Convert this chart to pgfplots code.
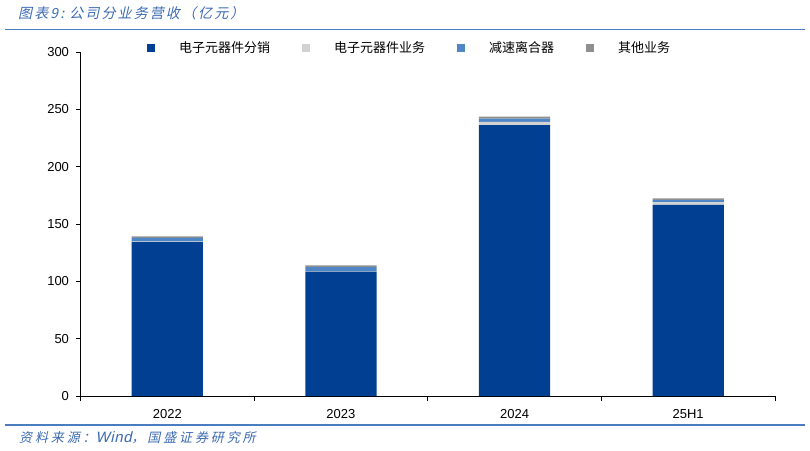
\documentclass[border=0pt]{standalone}
\usepackage{pgfplots}
\pgfplotsset{compat=1.18}
\usepackage{fontspec}
\setmainfont{Liberation Sans}
\newfontfamily\cjk{Noto Sans CJK SC}
\newfontfamily\cjktitle{Noto Sans CJK SC}[FakeSlant=0.22,LetterSpace=15]
\newfontfamily\cjksrc{Noto Sans CJK SC}[FakeSlant=0.22,LetterSpace=22]
\newfontfamily\latit{Liberation Sans}[FakeSlant=0.22,LetterSpace=4]
\definecolor{cDark}{HTML}{003F91}
\definecolor{cLight}{HTML}{D2D2D2}
\definecolor{cMid}{HTML}{4F86C6}
\definecolor{cGray}{HTML}{8F8F8F}
\definecolor{cTitle}{HTML}{3B6AB3}
\definecolor{cLine}{HTML}{4A7CC0}
\begin{document}
\begin{tikzpicture}[x=1pt,y=1pt]
\path[use as bounding box] (0,0) rectangle (810,450);
\node[anchor=west,inner sep=0pt,text=cTitle,font=\cjktitle\fontsize{14}{14}\selectfont] at (18,437) {图表9:\ 公司分业务营收（亿元）};
\draw[cLine,line width=1.2pt] (5,420.5) -- (805,420.5);
\draw[cLine,line width=1.2pt] (5,25) -- (805,25);
\node[anchor=west,inner sep=0pt,text=cTitle,font=\cjksrc\fontsize{13}{13}\selectfont] at (19,12) {资料来源：{\latit\fontsize{15}{15}\selectfont Wind}，国盛证券研究所};
\begin{axis}[
  at={(80.5pt,54pt)}, anchor=south west,
  scale only axis, width=694.5pt, height=344pt,
  ymin=0, ymax=300, ytick={0,50,...,300},
  xmin=-0.5, xmax=3.5,
  xtick={-0.5,0.5,1.5,2.5,3.5},
  x tick label as interval,
  xticklabels={2022,2023,2024,25H1},
  axis x line*=bottom, axis y line*=left,
  axis line style={black, line width=0.7pt},
  tick style={black, line width=0.7pt},
  tick align=outside, major tick length=5pt,
  /pgf/number format/assume math mode=true,
  tick label style={font=\fontsize{13}{13}\selectfont},
  yticklabel style={xshift=-3pt},
  xticklabel style={yshift=-5pt},
  ybar stacked, bar width=0.41,
  legend columns=4,
  legend style={at={(0.474,1.012)}, anchor=center, draw=none, fill=none,
    font=\cjk\fontsize{13}{13}\selectfont,
    /tikz/every odd column/.append style={column sep=22pt},
    /tikz/every even column/.append style={column sep=30pt}},
  legend image code/.code={\fill[#1,draw=none] (0pt,-4pt) rectangle (8pt,4pt);},
]
\addplot[fill=cDark, draw=none] coordinates {(0,134.5) (1,108.5) (2,236.3) (3,166.6)};
\addplot[fill=cLight, draw=none] coordinates {(0,0.3) (1,0.3) (2,2.7) (3,2.3)};
\addplot[fill=cMid, draw=none] coordinates {(0,3.0) (1,3.5) (2,3.0) (3,2.0)};
\addplot[fill=cGray, draw=none] coordinates {(0,1.5) (1,1.6) (2,1.7) (3,1.5)};
\legend{电子元器件分销,电子元器件业务,减速离合器,其他业务}
\end{axis}
\end{tikzpicture}
\end{document}
